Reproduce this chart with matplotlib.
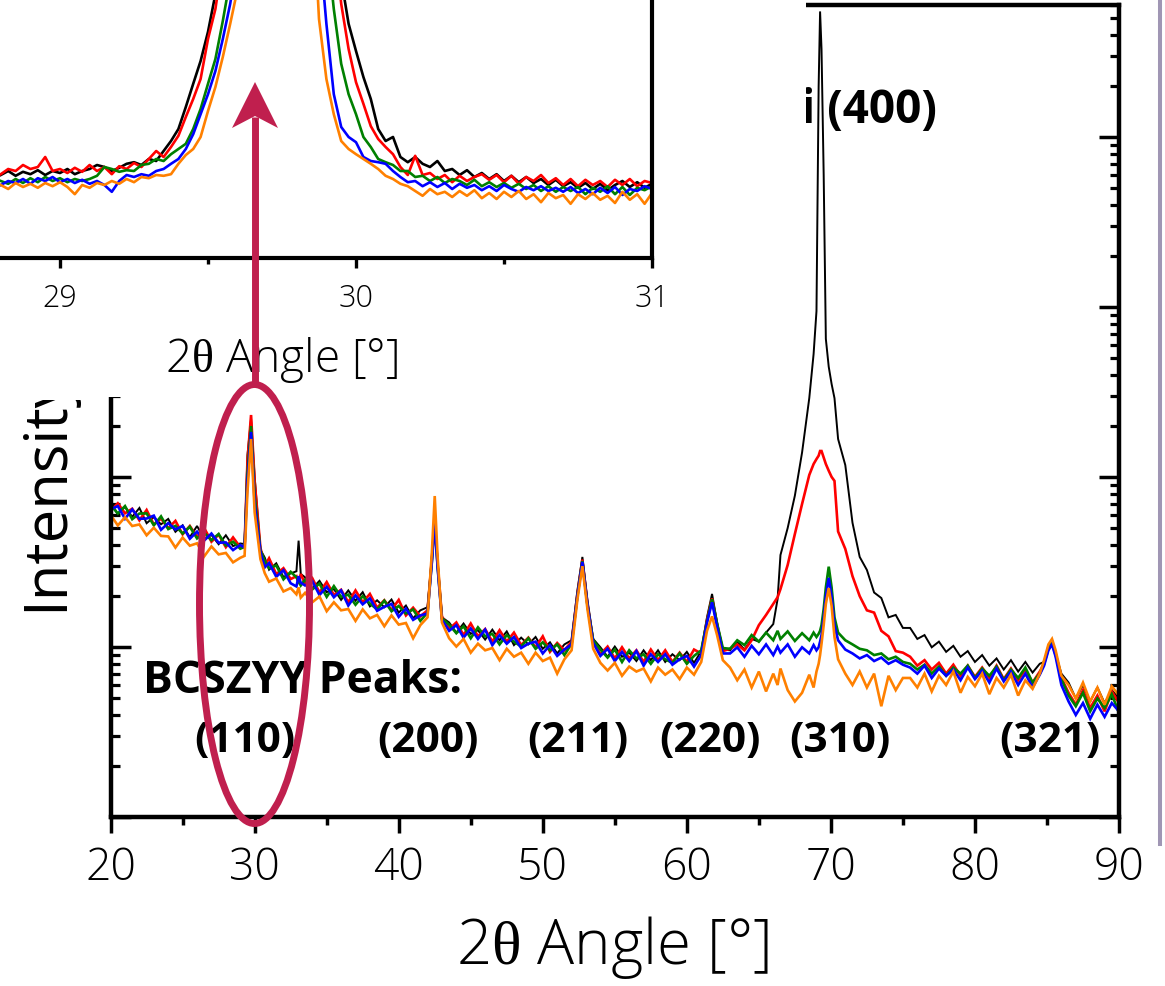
import numpy as np
import matplotlib
matplotlib.use("Agg")
import matplotlib.pyplot as plt
from matplotlib.patches import Rectangle, Ellipse, Polygon
from matplotlib.lines import Line2D
from matplotlib.transforms import Bbox
from matplotlib.ticker import MultipleLocator, LogLocator, NullFormatter, FixedLocator

plt.rcParams['font.family'] = ['Open Sans', 'DejaVu Sans']
plt.rcParams['mathtext.fontset'] = 'custom'
plt.rcParams['mathtext.rm'] = 'Liberation Serif'
plt.rcParams['mathtext.it'] = 'Liberation Serif:italic'
plt.rcParams['mathtext.bf'] = 'Liberation Serif:bold'

# ---------------- main pattern data (2theta in deg, intensity in counts) ----------------
x_main = [
    20.0, 20.5, 21.0, 21.5, 22.0, 22.5, 23.0, 23.5, 24.0, 24.5, 25.0, 25.5, 26.0, 26.5, 27.0, 27.5, 28.0, 28.5, 29.0,
    29.3, 29.5, 29.75, 30.0, 30.4,
    30.7, 31.0, 31.5, 32.0, 32.5,
    32.9, 33.05, 33.2,
    33.5, 34.0, 34.5, 35.0, 35.5, 36.0, 36.5, 37.0, 37.5, 38.0, 38.5, 39.0, 39.5, 40.0, 40.5, 41.0, 41.5,
    42.0, 42.3, 42.5, 42.7, 43.0,
    43.5, 44.0, 44.5, 45.0, 45.5, 46.0, 46.5, 47.0, 47.5, 48.0, 48.5, 49.0, 49.5, 50.0, 50.5, 51.0, 51.5,
    52.0, 52.4, 52.75, 53.1, 53.5,
    54.0, 54.5, 55.0, 55.5, 56.0, 56.5, 57.0, 57.5, 58.0, 58.5, 59.0, 59.5, 60.0, 60.5,
    61.0, 61.4, 61.75, 62.1, 62.5,
    63.0, 63.5, 64.0, 64.5, 65.0, 65.5, 66.0, 66.3, 66.5, 67.0, 67.5, 68.0, 68.5, 68.8, 69.0, 69.15, 69.25,
    69.35, 69.5, 69.65, 69.85, 70.05, 70.25, 70.5, 71.0, 71.5, 72.0, 72.5, 73.0, 73.5, 74.0, 74.5, 75.0,
    75.5, 76.0, 76.5, 77.0, 77.5, 78.0, 78.5, 79.0, 79.5, 80.0, 80.5, 81.0, 81.5, 82.0, 82.5, 83.0, 83.5, 84.0, 84.5,
    84.8, 85.1, 85.35, 85.6, 86.0,
    86.5, 87.0, 87.5, 88.0, 88.5, 89.0, 89.5, 90.0]

black_main = [
    721, 605, 671, 585, 660, 537, 583, 529, 569, 478, 522, 444, 517, 434, 458, 404, 456, 394, 408,
    405, 1350, 2200, 1000, 375,
    337, 286, 312, 259, 272,
    280, 424, 270,
    258, 222, 246, 211, 220, 190, 216, 188, 211, 174, 189, 172, 191, 160, 176, 148, 165,
    172, 340, 575, 320, 150,
    140, 122, 138, 120, 126, 111, 127, 110, 124, 103, 114, 104, 115, 98, 107, 92, 104,
    110, 215, 340, 190, 112,
    100, 88, 101, 88, 93, 83, 96, 84, 96, 82, 91, 84, 94, 81,
    95, 150, 206, 140, 97,
    96, 108, 97, 112, 108, 122, 137, 192, 349, 503, 780, 1400, 2924, 5310, 9500, 200000, 550000,
    330000, 60000, 6520, 4470, 3540, 2920, 1680, 1180, 540, 340, 285, 210, 195, 150, 155, 130,
    130, 112, 118, 100, 108, 94, 102, 88, 95, 82, 90, 78, 86, 74, 84, 72, 82, 71, 80,
    82, 102, 108, 92, 70,
    62, 50, 60, 48, 58, 47, 56, 50]

red_main = [
    635, 703, 614, 653, 558, 642, 527, 572, 501, 554, 462, 517, 447, 503, 418, 460, 388, 443, 388,
    395, 1250, 2325, 950, 385,
    302, 334, 269, 292, 252,
    262, 236, 270,
    236, 255, 210, 242, 203, 218, 184, 216, 184, 206, 171, 189, 166, 190, 154, 171, 152,
    165, 330, 560, 310, 152,
    128, 140, 118, 138, 116, 128, 108, 126, 108, 122, 103, 114, 100, 116, 94, 106, 96,
    108, 205, 328, 180, 108,
    91, 101, 86, 100, 86, 96, 82, 97, 84, 96, 82, 93, 82, 97,
    92, 145, 194, 136, 95,
    98, 104, 96, 110, 135, 155, 180, 197, 220, 305, 464, 697, 1032, 1197, 1280, 1340, 1428,
    1428, 1310, 1197, 1093, 1005, 952, 480, 379, 262, 200, 165, 160, 125, 116, 95, 93,
    88, 78, 84, 74, 81, 70, 79, 68, 78, 67, 76, 66, 78, 65, 75, 64, 74, 62, 72,
    80, 98, 106, 90, 66,
    54, 46, 56, 44, 52, 42, 55, 47]

green_main = [
    688, 612, 677, 567, 612, 613, 522, 589, 496, 518, 467, 512, 437, 471, 427, 464, 397, 418, 380,
    390, 1050, 2003, 780, 370,
    324, 292, 303, 251, 278,
    258, 245, 231,
    250, 219, 237, 198, 229, 198, 204, 178, 200, 181, 167, 188, 163, 175, 158, 167, 143,
    160, 320, 550, 300, 148,
    136, 121, 133, 113, 131, 116, 120, 104, 118, 108, 101, 113, 98, 107, 96, 104, 90,
    105, 200, 322, 176, 110,
    97, 87, 97, 82, 96, 86, 91, 80, 91, 85, 81, 92, 80, 89,
    96, 142, 192, 138, 99,
    98, 110, 103, 118, 108, 122, 110, 125, 112, 124, 109, 121, 110, 122, 115, 120, 125,
    135, 168, 225, 298, 225, 150, 122, 110, 104, 98, 96, 90, 92, 85, 88, 82,
    80, 74, 79, 70, 77, 68, 76, 70, 78, 66, 75, 68, 77, 64, 74, 66, 76, 62, 70,
    80, 100, 108, 92, 65,
    52, 45, 54, 42, 50, 44, 53, 41]

blue_main = [
    648, 677, 570, 647, 570, 572, 595, 491, 538, 493, 517, 435, 479, 425, 467, 412, 414, 373, 400,
    385, 950, 1848, 700, 365,
    295, 313, 260, 284, 238,
    228, 262, 240,
    231, 245, 203, 227, 197, 216, 176, 202, 179, 194, 164, 173, 180, 151, 169, 145, 154,
    158, 315, 545, 295, 145,
    125, 135, 114, 129, 112, 127, 103, 118, 105, 115, 99, 105, 108, 92, 103, 89, 97,
    104, 198, 318, 178, 106,
    89, 98, 83, 94, 83, 95, 78, 91, 82, 91, 79, 85, 89, 77,
    90, 140, 184, 132, 92,
    92, 100, 88, 102, 91, 104, 90, 101, 93, 104, 88, 100, 92, 103, 96, 100, 108,
    118, 150, 200, 256, 200, 135, 110, 97, 92, 86, 90, 83, 87, 80, 84, 79,
    76, 70, 78, 66, 75, 68, 74, 64, 76, 65, 73, 62, 75, 63, 72, 60, 70, 58, 69,
    78, 96, 104, 88, 60,
    48, 40, 47, 38, 46, 39, 47, 42]

orange_main = [
    601, 521, 582, 517, 528, 456, 505, 452, 449, 386, 442, 396, 409, 343, 392, 352, 359, 316, 336,
    345, 820, 1680, 620, 330,
    273, 243, 254, 213, 223,
    205, 225, 196,
    209, 184, 199, 163, 184, 165, 168, 143, 167, 148, 155, 133, 154, 136, 139, 113, 135,
    150, 360, 776, 340, 140,
    113, 101, 112, 93, 105, 96, 99, 84, 98, 88, 93, 80, 93, 83, 87, 70, 85,
    96, 190, 300, 168, 98,
    81, 73, 81, 68, 77, 72, 75, 63, 76, 69, 74, 65, 76, 69,
    82, 125, 152, 118, 84,
    76, 64, 74, 58, 72, 55, 70, 60, 75, 56, 48, 54, 69, 58, 72, 80, 90,
    105, 135, 180, 223, 175, 115, 85, 70, 60, 72, 58, 70, 45, 68, 56, 66,
    66, 58, 70, 55, 68, 60, 72, 54, 67, 59, 70, 53, 66, 58, 69, 52, 64, 57, 70,
    84, 104, 112, 96, 68,
    60, 50, 62, 48, 58, 46, 59, 52]

# ---------------- inset data (28.8 - 31.0 deg, step 0.025) ----------------
x_inset = np.round(np.arange(0, 89) * 0.025 + 28.8, 3)

black_inset = [
    410, 420, 408, 418, 412, 422, 410, 420, 415, 425, 412, 420, 425, 435, 430, 420, 428, 438, 442, 435,
    450, 445, 470, 495, 525, 580, 638, 695, 768, 862, 1000, 1175, 1400, 1650, 1875, 2050, 2162, 2200,
    2200, 2150, 2025, 1850, 1625, 1400, 1200, 1038, 900, 788, 720, 655, 600, 525, 495, 505, 455, 442,
    455, 438, 430, 445, 420, 425, 410, 422, 405, 415, 400, 412, 395, 408, 392, 405, 390, 400, 385, 398,
    382, 392, 378, 390, 375, 388, 372, 385, 395, 380, 392, 378, 388]

red_inset = [
    412, 425, 420, 435, 425, 430, 455, 420, 425, 415, 428, 418, 435, 420, 430, 412, 432, 425, 440, 430,
    450, 470, 455, 480, 508, 555, 600, 650, 750, 825, 950, 1125, 1350, 1625, 1875, 2075, 2200, 2275,
    2300, 2250, 2125, 1925, 1675, 1425, 1200, 1012, 838, 725, 642, 588, 532, 500, 480, 462, 430, 410,
    458, 410, 415, 400, 410, 392, 408, 395, 405, 412, 398, 410, 392, 408, 388, 405, 395, 410, 390, 402,
    385, 400, 382, 398, 385, 395, 380, 398, 385, 400, 382, 395, 390]

green_inset = [
    395, 388, 400, 390, 402, 392, 405, 395, 402, 392, 400, 395, 400, 408, 430, 425, 418, 422, 420, 435,
    438, 450, 445, 462, 475, 488, 525, 575, 638, 700, 795, 900, 1050, 1250, 1500, 1750, 1950, 2075,
    2100, 2050, 1900, 1675, 1425, 1200, 1000, 825, 688, 612, 562, 505, 480, 450, 442, 435, 420, 420,
    405, 408, 395, 405, 390, 400, 395, 385, 398, 382, 392, 380, 390, 378, 388, 375, 385, 370, 382, 368,
    380, 370, 380, 362, 378, 368, 382, 362, 380, 360, 378, 372, 382]

blue_inset = [
    385, 395, 390, 400, 388, 402, 395, 405, 392, 400, 390, 398, 388, 395, 385, 368, 395, 410, 405, 412,
    408, 420, 425, 438, 450, 475, 512, 562, 612, 670, 750, 838, 950, 1150, 1375, 1625, 1825, 1950,
    1988, 1950, 1825, 1600, 1350, 1000, 788, 612, 530, 505, 492, 455, 445, 442, 438, 420, 405, 392,
    395, 382, 392, 380, 390, 375, 388, 378, 385, 372, 382, 370, 385, 375, 368, 380, 372, 382, 370, 378,
    368, 380, 365, 375, 362, 378, 365, 380, 360, 375, 370, 382, 375]

orange_inset = [
    385, 375, 390, 380, 388, 378, 390, 382, 392, 380, 362, 385, 378, 390, 385, 395, 388, 400, 392, 405,
    402, 410, 408, 412, 438, 460, 475, 505, 570, 630, 705, 788, 875, 1025, 1225, 1475, 1675, 1800,
    1850, 1800, 1650, 1425, 1150, 800, 650, 562, 495, 475, 462, 450, 438, 425, 408, 400, 388, 382,
    370, 358, 375, 362, 368, 355, 370, 358, 372, 352, 365, 350, 368, 355, 370, 350, 362, 342, 365, 352,
    360, 338, 362, 350, 365, 348, 358, 340, 368, 348, 362, 338, 365]

series_names = ['black', 'red', 'green', 'blue', 'orange']
series_colors = ['#000000', '#ff0000', '#008000', '#0000ff', '#ff8000']
main_values = [black_main, red_main, green_main, blue_main, orange_main]
inset_values = [black_inset, red_inset, green_inset, blue_inset, orange_inset]

main_ticks = [20, 30, 40, 50, 60, 70, 80, 90]
inset_ticks = [29, 30, 31]
hkl_labels = ['(110)', '(200)', '(211)', '(220)', '(310)', '(321)']
hkl_label_x = [29.33, 42.03, 52.44, 61.6, 70.62, 85.19]
x_label = r'2$\mathrm{\theta}$ Angle [°]'
y_label = 'Intensity'
y_label_visible = 'Intensit'   # part of the label not hidden by the inset panel

CRIMSON = '#C01F4E'

# ---------------- figure ----------------
W, H = 1165, 987
fig = plt.figure(figsize=(W / 100, H / 100), dpi=100)


def fx(px):
    return px / W


def fy(py):
    return 1 - py / H


PANEL_BOTTOM = 398.0

# main axes (pixel box of the reference)
L, R, T, B = 110.6, 1119.0, 6.0, 818.3
ax = fig.add_axes([fx(L), fy(B), (R - L) / W, (B - T) / H])
ax.set_zorder(0)
for vals, col in zip(main_values, series_colors):
    ax.plot(x_main, vals, color=col, lw=1.9 if col != '#000000' else 1.4, solid_joinstyle='miter')
ax.set_yscale('log')
ax.set_xlim(20, 90)
ax.set_ylim(10, 6.0e5)
ax.xaxis.set_major_locator(FixedLocator(main_ticks))
ax.xaxis.set_minor_locator(MultipleLocator(5))
ax.yaxis.set_major_locator(LogLocator(base=10, numticks=20))
ax.yaxis.set_minor_locator(LogLocator(base=10, subs=range(2, 10), numticks=20))
ax.yaxis.set_major_formatter(NullFormatter())
ax.yaxis.set_minor_formatter(NullFormatter())
ax.tick_params(axis='x', which='major', direction='out', length=11.5, width=2.5,
               labelsize=32, pad=9, top=False)
ax.tick_params(axis='x', which='minor', direction='out', length=5.8, width=2.5, top=False)
ax.tick_params(axis='y', which='major', direction='in', length=14.4, width=2.5,
               left=True, right=True, labelleft=False)
ax.tick_params(axis='y', which='minor', direction='in', length=6.5, width=2.3,
               left=True, right=True)
for sp in ax.spines.values():
    sp.set_linewidth(3.2)
for lbl in ax.get_xticklabels():
    lbl.set_fontweight('light')

ax.text(fx(613), fy(948), x_label, transform=fig.transFigure, ha='center', va='center',
        fontsize=44.5, fontweight='light')

# y label: only its lower part is visible below the white inset panel
YL_FS = 43
YL_BOTTOM = 611
ylab = ax.text(fx(62), fy(YL_BOTTOM), y_label, transform=fig.transFigure, ha='left',
               va='baseline', rotation=90, rotation_mode='anchor', fontsize=YL_FS)
renderer = fig.canvas.get_renderer()
tmp = fig.text(0, 0, y_label_visible, fontsize=YL_FS)
vis_len = tmp.get_window_extent(renderer).width
tmp.remove()
clip_top_px = max(PANEL_BOTTOM, YL_BOTTOM - vis_len)
ylab.set_clip_path(None)
ylab.set_clip_box(Bbox.from_extents(0, 0, W, H - clip_top_px))
ylab.set_clip_on(True)

ax.text(22.25, 54.6, 'BCSZYY Peaks:', ha='left', va='baseline', fontsize=32, fontweight='bold')
for lbl, xl in zip(hkl_labels, hkl_label_x):
    ax.text(xl, 24.5, lbl, ha='center', va='baseline', fontsize=30.5, fontweight='bold')
ax.text(77.35, 1.23e5, 'Si (400)', ha='right', va='baseline', fontsize=33, fontweight='bold')

# white panel of the inset layer (covers part of the main plot)
panel = Rectangle((0, fy(PANEL_BOTTOM)), fx(806), PANEL_BOTTOM / H, transform=fig.transFigure,
                  facecolor='white', edgecolor='none', zorder=1)
fig.add_artist(panel)

# inset axes
IL, IR, IT, IB = -88.0, 652.0, -650.0, 259.0
axi = fig.add_axes([fx(IL), fy(IB), (IR - IL) / W, (IB - IT) / H])
axi.set_zorder(2)
for vals, col in zip(inset_values, series_colors):
    axi.plot(x_inset, vals, color=col, lw=1.9)
axi.set_xlim(28.5, 31)
axi.set_ylim(202.5, 2475)
axi.xaxis.set_major_locator(FixedLocator(inset_ticks))
axi.xaxis.set_minor_locator(MultipleLocator(0.5))
axi.tick_params(axis='x', which='major', direction='out', length=7.5, width=2.4,
                labelsize=22, pad=10.0)
axi.tick_params(axis='x', which='minor', direction='out', length=4, width=2.4)
axi.tick_params(axis='y', left=False, right=False, labelleft=False)
for sp in axi.spines.values():
    sp.set_linewidth(3.0)
for lbl in axi.get_xticklabels():
    lbl.set_fontweight('light')
axi.text(fx(282), fy(360), x_label, transform=fig.transFigure, ha='center',
         va='center', fontsize=33, fontweight='light')

# crimson annotation: ellipse + arrow
ell = Ellipse((fx(254.5), fy(605)), 110 / W, 439 / H, transform=fig.transFigure,
              facecolor='none', edgecolor=CRIMSON, lw=5.0, zorder=5)
fig.add_artist(ell)
shaft = Line2D([fx(255), fx(255)], [fy(386), fy(118)], transform=fig.transFigure,
               color=CRIMSON, lw=5.0, solid_capstyle='butt', zorder=5)
fig.add_artist(shaft)
head = Polygon([(fx(255), fy(83)), (fx(278), fy(129)), (fx(255), fy(117)), (fx(232), fy(129))],
               closed=True, transform=fig.transFigure, facecolor=CRIMSON, edgecolor='none',
               zorder=5)
fig.add_artist(head)

# slide border line on the right
border = Line2D([fx(1160), fx(1160)], [fy(0), fy(845)], transform=fig.transFigure,
                color='#A096B4', lw=2.9, zorder=5)
fig.add_artist(border)

fig.savefig('out.png', dpi=100)
